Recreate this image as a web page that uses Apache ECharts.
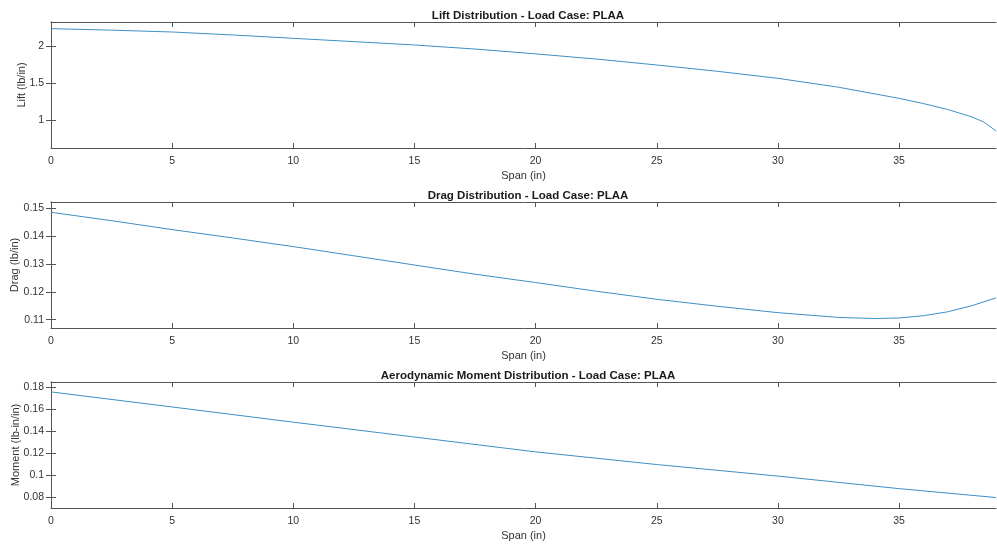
<!DOCTYPE html>
<html>
<head>
<meta charset="utf-8">
<script src="https://cdn.jsdelivr.net/npm/echarts@6/dist/echarts.min.js"></script>
<style>
  html, body { margin: 0; padding: 0; background: #fff; }
  #container { width: 997px; height: 546px; }
</style>
</head>
<body>
<div id="container"></div>
<script>
// span stations (in) and values
var liftSpan  = [0, 2.5, 5, 7.5, 10, 12.5, 15, 17.5, 20, 22.5, 25, 27.5, 30, 32.5, 35, 36, 37, 38, 38.5, 39];
var liftVals  = [2.24, 2.22, 2.195, 2.155, 2.11, 2.065, 2.02, 1.965, 1.90, 1.83, 1.75, 1.665, 1.57, 1.45, 1.30, 1.23, 1.15, 1.05, 0.98, 0.86];

var dragSpan  = [0, 2.5, 5, 7.5, 10, 12.5, 15, 17.5, 20, 22.5, 25, 27.5, 30, 32.5, 34, 35, 36, 37, 38, 39];
var dragVals  = [0.1485, 0.1455, 0.1423, 0.1393, 0.1362, 0.1329, 0.1296, 0.1263, 0.1233, 0.1202, 0.1173, 0.1148, 0.1125, 0.1108, 0.1104, 0.1106, 0.1114, 0.1128, 0.1150, 0.1178];

var momSpan   = [0, 5, 10, 15, 20, 25, 30, 35, 39];
var momVals   = [0.1755, 0.1618, 0.148, 0.1345, 0.121, 0.1095, 0.0990, 0.0876, 0.0795];

var spanTicks = [0, 5, 10, 15, 20, 25, 30, 35];
var liftTicks = [1, 1.5, 2];
var dragTicks = [0.11, 0.12, 0.13, 0.14, 0.15];
var momTicks  = [0.08, 0.1, 0.12, 0.14, 0.16, 0.18];

var titles = [
  'Lift Distribution - Load Case: PLAA',
  'Drag Distribution - Load Case: PLAA',
  'Aerodynamic Moment Distribution - Load Case: PLAA'
];
var yNames = ['Lift (lb/in)', 'Drag (lb/in)', 'Moment (lb-in/in)'];

(function(){
  var dom = document.getElementById('container');
  var myChart = echarts.init(dom);

  var axisColor = '#555555';
  var textColor = '#333333';
  var lineColor = '#3f8fc4';
  var font = 'Liberation Sans, Arial, sans-serif';

  var tops = [22, 202, 382];
  var yRange = [[0.63, 2.33], [0.107, 0.1522], [0.07, 0.1845]];
  var yTicks = [liftTicks, dragTicks, momTicks];
  var yGaps = [24, 31, 30];
  var titleTops = [5, 185, 365];

  function zip(xs, ys) {
    var out = [];
    for (var i = 0; i < xs.length; i++) out.push([xs[i], ys[i]]);
    return out;
  }
  var seriesData = [zip(liftSpan, liftVals), zip(dragSpan, dragVals), zip(momSpan, momVals)];

  var option = { animation: false, title: [], grid: [], xAxis: [], yAxis: [], series: [] };

  for (var i = 0; i < 3; i++) {
    option.title.push({
      text: titles[i], left: 523, top: titleTops[i], textAlign: 'center',
      textStyle: { fontFamily: font, fontSize: 11.5, fontWeight: 'bold', color: '#1a1a1a' }
    });
    option.grid.push({ left: 51, right: 1, top: tops[i], height: 126, containLabel: false, outerBoundsMode: 'none' });

    // bottom x axis
    option.xAxis.push({
      type: 'value', gridIndex: i, min: 0, max: 39,
      name: 'Span (in)', nameLocation: 'middle', nameGap: 22, nameMoveOverlap: false,
      nameTextStyle: { fontFamily: font, fontSize: 11, color: textColor },
      axisLine: { show: true, lineStyle: { color: axisColor, width: 1 } },
      axisTick: { show: true, inside: true, length: 5, customValues: spanTicks, lineStyle: { color: axisColor } },
      axisLabel: { customValues: spanTicks, margin: 8, fontFamily: font, fontSize: 10.5, color: textColor },
      splitLine: { show: false }
    });
    // top x axis (box + ticks)
    option.xAxis.push({
      type: 'value', gridIndex: i, min: 0, max: 39, position: 'top',
      axisLine: { show: true, lineStyle: { color: axisColor, width: 1 } },
      axisTick: { show: true, inside: true, length: 5, customValues: spanTicks, lineStyle: { color: axisColor } },
      axisLabel: { show: false },
      splitLine: { show: false }
    });
    // left y axis
    option.yAxis.push({
      type: 'value', gridIndex: i, min: yRange[i][0], max: yRange[i][1],
      name: yNames[i], nameLocation: 'middle', nameGap: yGaps[i], nameMoveOverlap: false,
      nameTextStyle: { fontFamily: font, fontSize: 11, color: textColor },
      axisLine: { show: true, lineStyle: { color: axisColor, width: 1 } },
      axisTick: { show: true, inside: true, length: 5, customValues: yTicks[i], lineStyle: { color: axisColor } },
      axisLabel: { customValues: yTicks[i], margin: 7, fontFamily: font, fontSize: 10.5, color: textColor },
      splitLine: { show: false }
    });
    // right y axis
    option.yAxis.push({
      type: 'value', gridIndex: i, min: yRange[i][0], max: yRange[i][1], position: 'right',
      axisLine: { show: true, lineStyle: { color: axisColor, width: 1 } },
      axisTick: { show: true, inside: true, length: 5, customValues: yTicks[i], lineStyle: { color: axisColor } },
      axisLabel: { show: false },
      splitLine: { show: false }
    });

    option.series.push({
      type: 'line', xAxisIndex: i * 2, yAxisIndex: i * 2,
      data: seriesData[i], showSymbol: false, smooth: false,
      lineStyle: { color: lineColor, width: 1 }, itemStyle: { color: lineColor }
    });
  }

  myChart.setOption(option, true);
  window.onresize = myChart.resize;
}());
</script>
</body>
</html>
